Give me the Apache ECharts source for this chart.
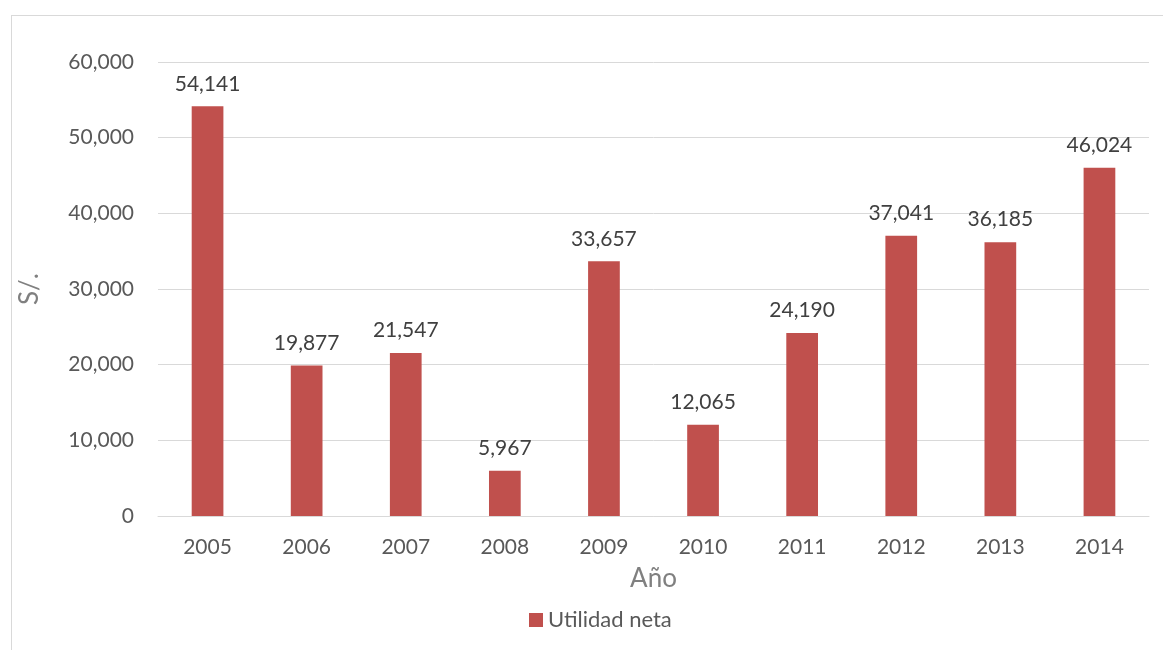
<!DOCTYPE html>
<html><head><meta charset="utf-8">
<script src="https://cdn.jsdelivr.net/npm/echarts@6/dist/echarts.min.js"></script>
<style>html,body{margin:0;padding:0;background:#fff}#c{width:1163px;height:650px;position:relative}
#frame{position:absolute;left:11px;top:15px;width:1160px;height:640px;border:1px solid #d9d9d9;box-sizing:border-box;pointer-events:none}</style>
</head><body><div id="c"></div><div id="frame"></div>
<script>
const categories = ['2005','2006','2007','2008','2009','2010','2011','2012','2013','2014'];
const utilidadNeta = [54141, 19877, 21547, 5967, 33657, 12065, 24190, 37041, 36185, 46024];
const seriesName = 'Utilidad neta';
const font = 'Lato, "Open Sans", sans-serif';
const chart = echarts.init(document.getElementById('c'));
chart.setOption({
  animation: false,
  textStyle: {fontFamily: font},
  grid: {left: 158, right: 14, top: 62, bottom: 134},
  legend: {
    data: [seriesName], top: 604, left: 524, itemWidth: 14, itemHeight: 14, icon: 'rect', itemGap: 8,
    textStyle: {fontSize: 22, color: '#595959', fontFamily: font}
  },
  xAxis: {
    type: 'category', data: categories,
    name: 'Año', nameLocation: 'middle', nameGap: 50,
    nameTextStyle: {fontSize: 26, color: '#808080', fontFamily: font},
    axisLine: {lineStyle: {color: '#d9d9d9', width: 1}},
    axisTick: {show: false},
    axisLabel: {fontSize: 21, color: '#595959', margin: 21, fontFamily: font}
  },
  yAxis: {
    type: 'value', min: 0, max: 60000, interval: 10000,
    name: 'S/.', nameLocation: 'middle', nameGap: 115,
    nameTextStyle: {fontSize: 26, color: '#808080', fontFamily: font},
    axisLine: {show: false}, axisTick: {show: false},
    splitLine: {lineStyle: {color: '#d9d9d9', width: 1}},
    axisLabel: {fontSize: 21, color: '#595959', margin: 24, fontFamily: font,
      formatter: v => v.toLocaleString('en-US')}
  },
  series: [{
    name: seriesName, type: 'bar', data: utilidadNeta, barWidth: '32%',
    itemStyle: {color: '#C0504D'},
    label: {show: true, position: 'top', distance: 12, fontSize: 21, color: '#404040', fontFamily: font,
      formatter: p => p.value.toLocaleString('en-US')}
  }]
});
</script></body></html>
